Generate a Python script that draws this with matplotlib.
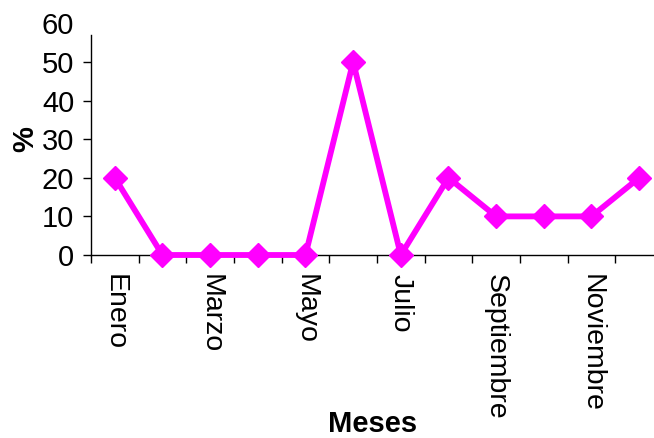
import numpy as np
import matplotlib.pyplot as plt

# Monthly percentages
meses = ["Enero", "Febrero", "Marzo", "Abril", "Mayo", "Junio",
         "Julio", "Agosto", "Septiembre", "Octubre", "Noviembre", "Diciembre"]
porcentaje = [20, 0, 0, 0, 0, 50, 0, 20, 10, 10, 10, 20]
yticks = [0, 10, 20, 30, 40, 50, 60]

plt.rcParams['font.family'] = ['Liberation Sans', 'DejaVu Sans']

fig = plt.figure(figsize=(6.54, 4.38), dpi=100)
ax = fig.add_axes([0.1391, 0.4178, 0.8746, 0.5288])

x = np.arange(len(meses))
ax.plot(x, porcentaje, color='#FF00FF', linewidth=4.2, marker='D',
        markersize=12.5, markeredgewidth=1, markeredgecolor='#FF00FF',
        clip_on=False, zorder=3)

# Excel-style category axis: ticks between categories, every other label
ax.set_xlim(-0.5, len(meses) - 0.5)
ax.set_xticks(np.arange(len(meses) + 1) - 0.5)
ax.set_xticklabels([])
ax.set_xticks(x[::2], minor=True)
ax.set_xticklabels(meses[::2], minor=True, rotation=270, fontsize=20.5,
                   va='top', ha='center')
ax.tick_params(axis='x', which='minor', length=0, pad=14)
ax.tick_params(axis='x', which='major', length=6, width=1, direction='out')

ax.set_ylim(0, 60)
ax.set_yticks(yticks)
ax.tick_params(axis='y', labelsize=21, length=6, width=1, pad=6)
ax.yaxis.get_major_ticks()[-1].tick1line.set_visible(False)

for side in ['top', 'right']:
    ax.spines[side].set_visible(False)
ax.spines['left'].set_bounds(0, 57)
ax.spines['left'].set_linewidth(1)
ax.spines['bottom'].set_linewidth(1)

ax.set_ylabel('%', fontsize=21, fontweight='bold', labelpad=2)
fig.text(0.57, 0.032, 'Meses', fontsize=21, fontweight='bold',
         ha='center', va='center')

fig.savefig('out.png', dpi=100)
